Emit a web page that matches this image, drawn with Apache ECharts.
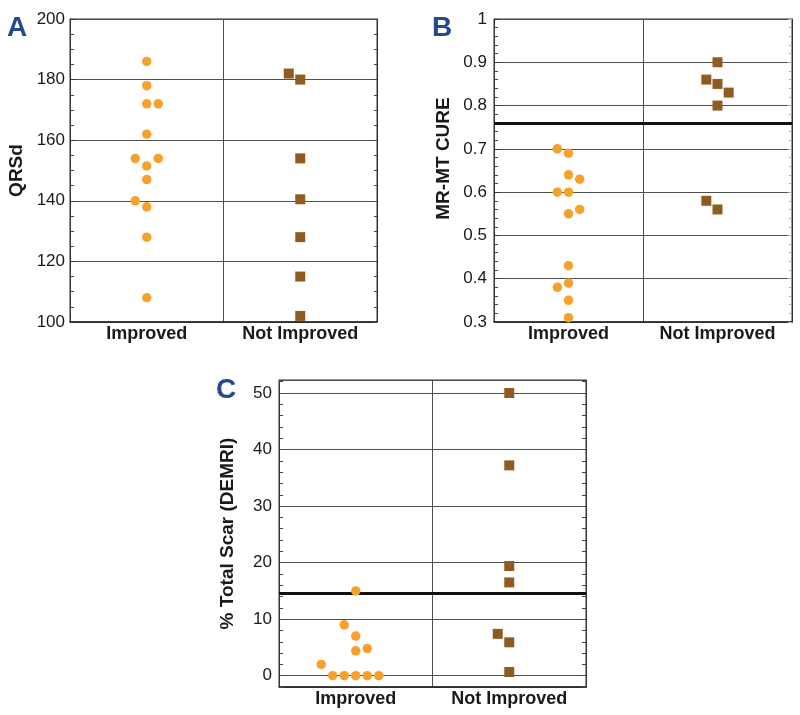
<!DOCTYPE html>
<html>
<head>
<meta charset="utf-8">
<script src="https://cdn.jsdelivr.net/npm/echarts@6/dist/echarts.min.js"></script>
<style>
html,body{margin:0;padding:0;background:#fff;}
#chart{width:800px;height:715px;}
</style>
</head>
<body>
<div id="chart"></div>
<script>
// ---- data ----
const categories = ['Improved', 'Not Improved'];

// Panel A: QRSd
const aImproved = [186, 178, 172, 172, 162, 154, 154, 151.5, 147, 140, 138, 128, 108];
const aImprovedSlot = [0, 0, 0, 1, 0, -1, 1, 0, 0, -1, 0, 0, 0];
const aNotImproved = [182, 180, 154, 140.5, 128, 115, 102];
const aNotImprovedSlot = [-1, 0, 0, 0, 0, 0, 0];

// Panel B: MR-MT CURE
const bImproved = [0.70, 0.69, 0.64, 0.63, 0.60, 0.60, 0.55, 0.56, 0.43, 0.39, 0.38, 0.35, 0.31];
const bImprovedSlot = [-1, 0, 0, 1, -1, 0, 0, 1, 0, 0, -1, 0, 0];
const bNotImproved = [0.90, 0.86, 0.85, 0.83, 0.80, 0.58, 0.56];
const bNotImprovedSlot = [0, -1, 0, 1, 0, -1, 0];
const bThreshold = 0.755;

// Panel C: % Total Scar (DEMRI)
const cImproved = [15, 9, 7, 4.4, 4.8, 2, 0, 0, 0, 0, 0];
const cImprovedSlot = [0, -1, 0, 0, 1, -3, -2, -1, 0, 1, 2];
const cNotImproved = [50, 37.2, 19.4, 16.5, 7.4, 5.9, 0.65];
const cNotImprovedSlot = [0, 0, 0, 0, -1, 0, 0];
const cThreshold = 14.5;

// ---- styling ----
const FONT = '"Liberation Sans", Arial, Helvetica, sans-serif';
const ORANGE = '#F5A12B';
const BROWN = '#8E5C20';
const LETTER = '#23498F';
const GRIDC = '#505050';
const JITTER = 0.075;

function pts(values, slots, catIdx) {
  return values.map((v, i) => [catIdx + 1 + slots[i] * JITTER, v]);
}

const grids = [
  { left: 70, top: 19, width: 307, height: 303 },
  { left: 494, top: 19, width: 298, height: 303 },
  { left: 279, top: 380, width: 307, height: 307 }
];

const xAxis = [];
const yAxis = [];
const series = [];

function addPanel(gi, cfg) {
  // category axis for labels and vertical separators
  xAxis.push({
    gridIndex: gi, type: 'category', data: categories, position: 'bottom',
    axisLine: { show: true, onZero: false, lineStyle: { color: '#222', width: 1.5 } },
    axisTick: { show: false },
    axisLabel: { interval: 0, hideOverlap: false, color: '#1a1a1a', fontFamily: FONT, fontWeight: 'bold', fontSize: 18, margin: 3 },
    splitLine: { show: true, interval: 0, lineStyle: { color: GRIDC, width: 1 } }
  });
  const xv = xAxis.length;
  xAxis.push({ gridIndex: gi, type: 'value', min: 0.5, max: 2.5, show: false });

  const yMain = yAxis.length;
  const mainY = {
    gridIndex: gi, type: 'value', position: 'left', min: cfg.min, max: cfg.max,
    name: cfg.name, nameLocation: 'middle', nameGap: cfg.nameGap, nameRotate: 90,
    nameTextStyle: { fontFamily: FONT, fontWeight: 'bold', fontSize: 19, color: '#1a1a1a', padding: cfg.namePad || 0 },
    axisLine: { show: true, onZero: false, lineStyle: { color: '#333', width: 1 } },
    axisLabel: { color: '#1a1a1a', fontFamily: FONT, fontSize: 17, margin: cfg.labelMargin },
    splitLine: { show: true, lineStyle: { color: GRIDC, width: 1 } }
  };
  if (cfg.interval != null) {
    mainY.interval = cfg.interval;
    mainY.axisTick = { show: true, inside: true, length: 5, lineStyle: { color: '#333' } };
    mainY.minorTick = { show: true, splitNumber: cfg.minorSplit, length: 4, lineStyle: { color: '#444' } };
  } else {
    mainY.splitNumber = 5;
    mainY.axisLabel.showMinLabel = false;
    mainY.axisLabel.showMaxLabel = false;
    mainY.axisTick = { show: false };
  }
  yAxis.push(mainY);

  if (cfg.interval != null) {
    yAxis.push({
      gridIndex: gi, type: 'value', position: 'right', min: cfg.min, max: cfg.max, interval: cfg.interval,
      axisLine: { show: true, onZero: false, lineStyle: { color: '#333' } },
      axisLabel: { show: false }, splitLine: { show: false },
      axisTick: { show: true, inside: true, length: 4, lineStyle: { color: cfg.rightTickColor } },
      minorTick: { show: true, splitNumber: cfg.minorSplit, length: 3, lineStyle: { color: cfg.rightTickColor } }
    });
  } else {
    ['left', 'right'].forEach(pos => {
      yAxis.push({
        gridIndex: gi, type: 'value', position: pos, min: cfg.min, max: cfg.max, interval: cfg.tickInterval,
        axisLine: { show: pos === 'right', onZero: false, lineStyle: { color: '#333' } },
        axisLabel: { show: false }, splitLine: { show: false },
        axisTick: { show: true, inside: true, length: 4, lineStyle: { color: '#444' } }
      });
    });
  }

  const impSeries = {
    type: 'scatter', xAxisIndex: xv, yAxisIndex: yMain,
    symbol: 'circle', symbolSize: 9.5, itemStyle: { color: ORANGE, opacity: 1 },
    data: pts(cfg.imp, cfg.impSlot, 0), z: 5
  };
  if (cfg.threshold != null) {
    impSeries.markLine = {
      silent: true, symbol: 'none', label: { show: false },
      lineStyle: { color: '#111', width: 3, type: 'solid' },
      data: [{ yAxis: cfg.threshold }]
    };
  }
  series.push(impSeries);
  series.push({
    type: 'scatter', xAxisIndex: xv, yAxisIndex: yMain,
    symbol: 'rect', symbolSize: 10, itemStyle: { color: BROWN, opacity: 1 },
    data: pts(cfg.notImp, cfg.notImpSlot, 1), z: 5
  });
}

addPanel(0, { min: 100, max: 200, interval: 20, minorSplit: 4, name: 'QRSd', nameGap: 44, labelMargin: 5,
  rightTickColor: '#444', imp: aImproved, impSlot: aImprovedSlot, notImp: aNotImproved, notImpSlot: aNotImprovedSlot });
addPanel(1, { min: 0.3, max: 1, interval: 0.1, minorSplit: 5, name: 'MR-MT CURE', nameGap: 41, labelMargin: 7,
  namePad: [0, 0, 0, 24], rightTickColor: '#aaa', threshold: bThreshold,
  imp: bImproved, impSlot: bImprovedSlot, notImp: bNotImproved, notImpSlot: bNotImprovedSlot });
addPanel(2, { min: -2, max: 52.3, tickInterval: 2, name: '% Total Scar (DEMRI)', nameGap: 42, labelMargin: 7,
  threshold: cThreshold, imp: cImproved, impSlot: cImprovedSlot, notImp: cNotImproved, notImpSlot: cNotImprovedSlot });

const letterFont = 'bold 28px ' + FONT;
const option = {
  animation: false,
  backgroundColor: '#fff',
  grid: grids.map(g => Object.assign({ show: true, borderColor: '#333', borderWidth: 1, containLabel: false }, g)),
  xAxis: xAxis,
  yAxis: yAxis,
  series: series,
  graphic: [
    { type: 'text', x: 7, y: 28, style: { text: 'A', font: letterFont, fill: LETTER, verticalAlign: 'middle' } },
    { type: 'text', x: 432, y: 28, style: { text: 'B', font: letterFont, fill: LETTER, verticalAlign: 'middle' } },
    { type: 'text', x: 216, y: 390, style: { text: 'C', font: letterFont, fill: LETTER, verticalAlign: 'middle' } }
  ]
};

const chart = echarts.init(document.getElementById('chart'), null, { renderer: 'canvas' });
chart.setOption(option);
</script>
</body>
</html>
